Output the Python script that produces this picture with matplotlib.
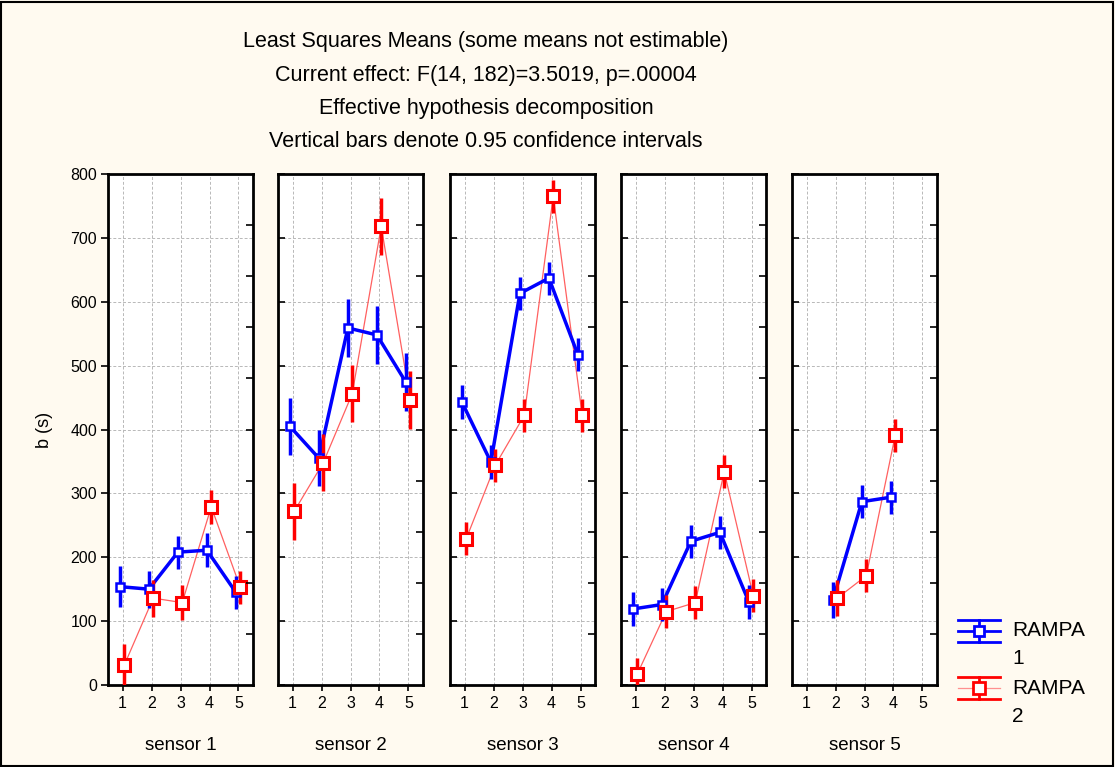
import numpy as np
import matplotlib
matplotlib.use("Agg")
import matplotlib.pyplot as plt

plt.rcParams['font.family'] = ['Liberation Sans', 'DejaVu Sans']

sensors = ["sensor 1", "sensor 2", "sensor 3", "sensor 4", "sensor 5"]
levels = [1, 2, 3, 4, 5]

# RAMPA 1 means and CI half-widths (nan = not estimable)
r1_mean = [
    [154, 150, 208, 211, 145],
    [405, 355, 559, 548, 474],
    [443, 349, 613, 637, 517],
    [119, 126, 225, 239, 130],
    [np.nan, 133, 287, 294, np.nan],
]
r1_err = [
    [32, 29, 26, 27, 26],
    [45, 44, 46, 46, 45],
    [26, 26, 26, 26, 26],
    [26, 26, 26, 26, 26],
    [np.nan, 28, 26, 26, np.nan],
]
# RAMPA 2
r2_mean = [
    [31, 136, 129, 279, 153],
    [272, 348, 456, 718, 446],
    [229, 344, 422, 765, 422],
    [17, 115, 129, 334, 140],
    [np.nan, 136, 171, 391, np.nan],
]
r2_err = [
    [33, 29, 27, 27, 26],
    [45, 45, 45, 45, 45],
    [26, 26, 26, 26, 26],
    [26, 26, 26, 26, 26],
    [np.nan, 28, 26, 26, np.nan],
]

title_lines = [
    "Least Squares Means (some means not estimable)",
    "Current effect: F(14, 182)=3.5019, p=.00004",
    "Effective hypothesis decomposition",
    "Vertical bars denote 0.95 confidence intervals",
]
yticks = [0, 100, 200, 300, 400, 500, 600, 700, 800]

W, H = 1115, 767
fig = plt.figure(figsize=(W / 100, H / 100), dpi=100)
bg = '#FFFAF0'
fig.patch.set_facecolor(bg)

# outer border
fig.add_artist(plt.Rectangle((0.001, 0.001), 0.997, 0.997, transform=fig.transFigure,
                             fill=False, edgecolor='black', lw=1.5))

blue = '#0000FF'
red = '#FF0000'
lefts = [108, 278, 450, 621, 792]
pw = 145
top_px, bot_px = 174, 685

for i, name in enumerate(sensors):
    ax = fig.add_axes([lefts[i] / W, (H - bot_px) / H, pw / W, (bot_px - top_px) / H])
    ax.set_facecolor('white')
    ax.set_xlim(0.5, 5.5)
    ax.set_ylim(0, 800)
    ax.set_xticks(levels)
    ax.set_yticks(yticks)
    ax.grid(True, color='#b8b8b8', ls=(0, (3, 2)), lw=0.7)
    ax.set_axisbelow(True)
    for s in ax.spines.values():
        s.set_linewidth(2)
        s.set_color('black')
    x = np.array(levels, dtype=float)
    m1 = np.array(r1_mean[i], dtype=float)
    e1 = np.array(r1_err[i], dtype=float)
    m2 = np.array(r2_mean[i], dtype=float)
    e2 = np.array(r2_err[i], dtype=float)
    # RAMPA 2 (thin red line)
    ax.plot(x + 0.06, m2, color='#FF6060', lw=0.9, zorder=3, clip_on=False)
    ax.errorbar(x + 0.06, m2, yerr=e2, fmt='none', ecolor=red, elinewidth=2.5,
                capsize=0, zorder=4, clip_on=True)
    ax.plot(x + 0.06, m2, ls='none', marker='s', ms=9, mfc='white', mec=red,
            mew=2.2, zorder=6, clip_on=False)
    # RAMPA 1 (thick blue line)
    ax.plot(x - 0.09, m1, color=blue, lw=2.5, zorder=3)
    ax.errorbar(x - 0.09, m1, yerr=e1, fmt='none', ecolor=blue, elinewidth=2.5,
                capsize=0, zorder=4)
    ax.plot(x - 0.09, m1, ls='none', marker='s', ms=6, mfc='white', mec=blue,
            mew=1.8, zorder=5)
    ax.tick_params(axis='x', direction='out', length=4, width=1.2, labelsize=11.5, pad=4)
    if i == 0:
        ax.tick_params(axis='y', direction='out', length=5, width=1.2, labelsize=11.5, pad=3)
        ax.set_ylabel("b (s)", fontsize=13, labelpad=12)
    else:
        ax.tick_params(axis='y', direction='in', length=5, width=1.2, labelleft=False)
    ax.set_xlabel(name, fontsize=13.5, labelpad=19)
    # right-side inner ticks
    ax2 = ax.twinx()
    ax2.set_ylim(0, 800)
    ax2.set_yticks([80, 160, 240, 320, 400, 480, 560, 640, 720])
    ax2.tick_params(axis='y', direction='in', length=5, width=1.2, labelright=False)
    for s in ax2.spines.values():
        s.set_visible(False)

# titles
for k, line in enumerate(title_lines):
    fig.text(486 / W, 1 - (42 + 33.3 * k) / H, line, ha='center', va='center', fontsize=15.5)

# legend drawn manually
lax = fig.add_axes([950 / W, (H - 730) / H, 165 / W, 120 / H])
lax.set_xlim(950, 1115)
lax.set_ylim(730, 610)
lax.axis('off')
for yc, col, midcol, mlw, ms in [(631, blue, blue, 2.0, 6.5), (688, red, '#FF9090', 0.9, 9)]:
    lax.plot([958, 1000], [yc - 11, yc - 11], color=col, lw=2)
    lax.plot([958, 1000], [yc + 11, yc + 11], color=col, lw=2)
    lax.plot([958, 1000], [yc, yc], color=midcol, lw=mlw)
    lax.plot([979, 979], [yc - 11, yc + 11], color=col, lw=2)
    lax.plot([979], [yc], marker='s', ms=ms, mfc='white', mec=col, mew=2)
    lax.text(1012, yc, "RAMPA", ha='left', va='center', fontsize=15)
lax.text(1012, 659, "1", ha='left', va='center', fontsize=15)
lax.text(1012, 716, "2", ha='left', va='center', fontsize=15)

fig.savefig("out.png", dpi=100, facecolor=fig.get_facecolor())
